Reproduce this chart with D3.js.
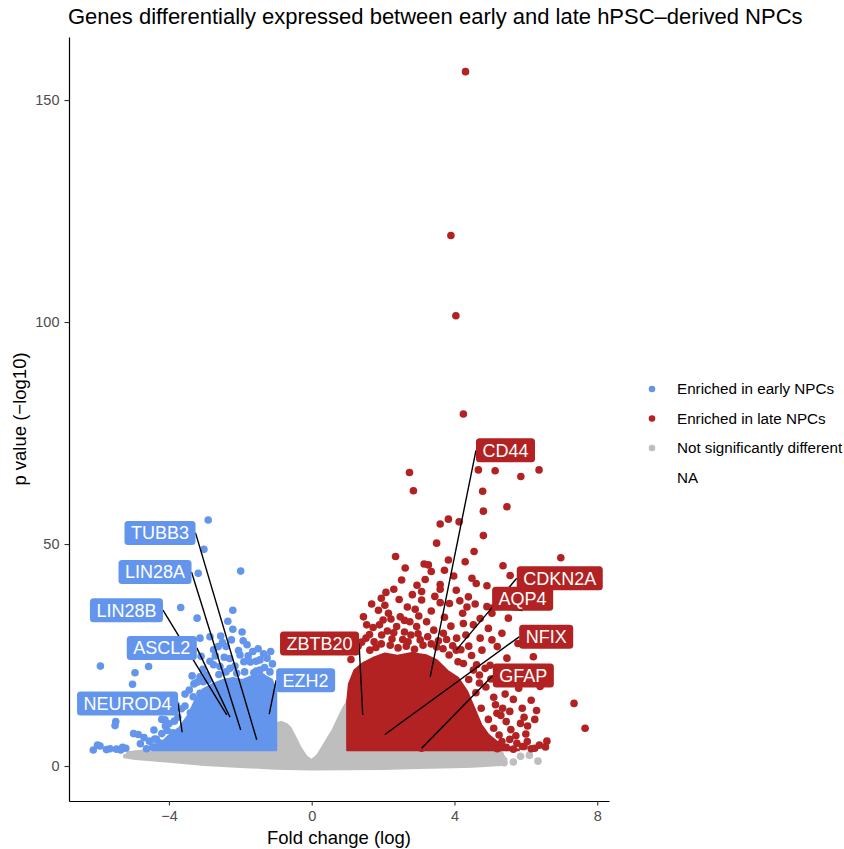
<!DOCTYPE html>
<html><head><meta charset="utf-8">
<script src="https://cdn.jsdelivr.net/npm/d3@7"></script>
<style>body{margin:0;background:#fff} text{font-family:"Liberation Sans",Arial,Helvetica,sans-serif}</style>
</head><body><svg id="chart" width="844" height="849"></svg>
<script>
// ---------- data ----------
const xTicks = [-4, 0, 4, 8];
const yTicks = [0, 50, 100, 150];
const legendLabels = ["Enriched in early NPCs", "Enriched in late NPCs", "Not significantly different", "NA"];
const groupColors = ["#6495ED", "#B22222", "#BEBEBE", null];

// dense clouds of points (outline of the overplotted mass: fold change, -log10 p)
const nsHullFC = [-5.25,-5.0,-4.5,-1.0,-0.99,-0.85,-0.7,-0.6,-0.45,-0.3,-0.15,0,0.15,0.3,0.45,0.6,0.75,0.9,1.0,1.0,5.0,5.3,5.45,5.3,4.5,4.0,3.0,2.0,1.0,0,-1.0,-2.0,-3.0,-4.0,-4.6,-5.0,-5.25];
const nsHullP  = [2.4,3.2,3.6,3.6,9.6,9.9,9.4,8.6,6.3,3.9,2.1,1.3,2.3,4.2,6.2,8.2,10.8,13.2,14.5,3.6,3.5,3.0,1.5,0.3,-0.1,-0.2,-0.4,-0.6,-0.7,-0.75,-0.55,-0.15,0.3,1.0,1.4,1.7,2.0];
const downHullFC = [-4.45,-4.45,-4.2,-3.95,-3.7,-3.45,-3.25,-3.05,-2.8,-2.5,-2.2,-1.95,-1.65,-1.35,-1.12,-1.0,-1.0];
const downHullP  = [3.6,4.6,5.3,7.2,8.6,11.5,15,17.2,18.3,19.3,19.8,19.3,20.3,20.4,19.4,17,3.6];
const upHullFC = [1.0,1.0,1.05,1.2,1.45,1.75,2.05,2.4,2.8,3.2,3.5,3.8,4.1,4.35,4.55,4.75,4.95,5.25,5.55,5.8];
const upHullP  = [3.6,14.5,18.5,21.5,23.2,24.4,25.3,24.8,25.4,24.9,23.8,21.4,19.8,16.8,13,9.2,7,5,4.2,3.6];

// individual (scattered) points
const nsFC = [4.67,5.39,5.65,6.34,5.00,5.28,-5.1,-4.85,-4.6,-4.3,6.1,5.85];
const nsP  = [0.75,0.75,0.9,1.1,2.6,2.6,2.6,2.3,2.2,1.9,2.4,2.2];

const downFC = [-2.90,-3.02,-3.18,-1.99,-3.67,-2.21,-3.21,-2.21,-3.13,-2.85,-2.55,-2.40,-1.92,-1.81,-2.01,-1.78,-1.56,-5.92,-4.57,-4.95,-5.02,-3.43,-3.32,-5.49,-5.51,-4.86,-4.42,-4.11,-4.35,-6.12,-5.93,-5.65,-5.47,-5.21,-4.63,-4.16,-3.88,-3.95,-3.64,-3.50,-3.06,-1.17,-1.40,-1.26,-2.10,-2.62,-3.13,-3.04,-3.13,-2.57,-2.29,-1.68,-1.45,-1.32,-1.62,-2.75,-2.95,-3.30,-3.55,-3.75,-4.05,-4.25,-4.80,-5.30,-6.00,-5.75,-5.35,-4.45,-3.80,-1.90,-2.45,-2.05,-1.65,-4.99,-4.20,-4.10,-3.90,-4.40,-3.40,-3.14,
  -1.10,-1.25,-1.45,-1.55,-1.72,-1.88,-2.15,-2.30,-2.40,-2.60,-2.70,-2.85,-2.90,-3.05,-3.20,-3.35,-3.10,-2.50,-2.25,-1.95,-2.75,-3.55,-3.65,-3.85,-3.80,-4.00,-4.20,-4.55,-4.70,-4.00,-2.35,-1.50,-1.35,-1.15];
const downP  = [55.4,48.8,43.4,43.9,35.7,35.1,33.3,30.8,28.8,29.1,29.3,26.9,28.2,27.3,25.0,24.8,23.6,22.5,22.4,21.0,18.4,17.1,15.6,10.0,9.1,7.1,8.1,10.4,6.0,3.6,4.5,3.9,3.8,4.0,3.9,4.3,6.6,5.1,5.9,8.9,14.1,21.2,20.1,19.0,20.9,26.9,20.1,19.0,16.4,22.4,22.0,19.4,21.6,22.2,21.0,22.8,20.5,18.5,13.5,11.0,8.0,5.2,5.0,4.2,4.7,3.7,3.6,4.3,4.8,23.5,24.5,26.0,25.8,7.3,10.5,9.0,7.5,6.1,12.0,11.3,
  23.0,24.3,23.9,21.4,23.4,21.2,22.5,24.2,21.2,20.6,24.8,23.6,19.3,21.8,18.9,20.3,24.7,27.8,28.4,30.2,26.2,16.2,12.9,10.1,13.8,9.5,7.3,5.6,6.4,12.5,32.6,26.4,25.3,25.8];

const upFC = [4.31,3.90,4.04,4.25,2.74,2.85,4.67,5.14,5.86,6.37,4.79,4.81,5.47,3.60,3.83,4.13,4.81,6.98,3.83,3.15,3.27,2.52,3.18,3.60,3.60,4.49,4.61,4.91,5.56,2.08,3.08,4.05,4.39,3.08,3.60,1.87,2.15,2.90,4.23,4.91,5.05,5.51,2.48,2.60,2.75,1.54,1.90,2.38,2.94,3.22,3.69,4.25,4.53,5.33,1.52,1.96,4.06,4.72,5.05,1.63,3.04,4.25,4.77,5.47,6.21,4.53,4.86,5.00,6.40,7.35,7.66,5.42,5.65,5.19,5.45,6.05,6.59,6.38,6.04,5.75,5.33,4.86,4.53,1.1,1.3,1.75,2.2,2.55,2.65,3.35,3.5,3.85,4.1,4.4,4.6,4.75,4.95,5.1,5.25,5.55,5.9,6.15,5.65,5.2,4.95,2.3,2.0,2.78,3.9,4.4,5.25,5.9,6.25,4.7,5.1,5.35,
  1.25,1.40,1.62,1.80,1.95,2.12,2.25,2.42,2.60,2.70,2.88,2.98,3.12,3.25,3.42,3.55,3.68,3.78,3.95,4.18,4.32,4.48,4.62,4.70,4.88,5.02,5.15,5.30,5.58,5.72,6.00,5.85,1.45,1.72,2.05,2.22,2.45,2.68,2.82,3.00,3.35,3.45,3.72,3.86,3.98,4.15,4.35,4.58,4.72,4.95,5.20,5.38,5.62,5.78,6.00,6.15,3.35,2.62,2.95,3.72,4.30,1.95,2.30,1.68,5.18,5.36,4.55,3.50,2.35,
  4.70,5.00,5.45,5.95,6.25,6.55,5.55,5.95,6.30,5.80,6.10];
const upP  = [156.4,119.5,101.4,79.3,66.1,62.0,66.7,66.5,65.2,66.7,61.9,57.4,58.4,54.5,55.6,55.0,51.9,46.9,46.4,45.5,45.3,41.9,42.0,40.9,39.8,42.3,41.1,40.6,42.9,39.1,39.3,39.6,38.1,37.4,36.8,35.1,34.4,35.3,34.4,35.9,34.4,33.3,33.6,32.8,32.5,31.8,31.8,31.4,31.4,32.5,29.9,32.1,31.8,29.9,28.8,29.5,28.8,28.8,28.4,26.1,28.4,23.1,26.1,24.3,24.6,21.6,22.0,22.7,17.9,14.1,8.5,16.2,15.0,11.9,10.0,9.0,5.6,4.7,5.5,5.1,5.5,6.6,8.1,24,27.0,28.0,27.2,28.5,27.0,27.5,26.8,25.0,23.5,19.5,16.5,13.0,10.5,8.5,7.0,6.0,4.4,3.9,3.8,3.9,4.2,30.0,32.9,29.5,31.5,27.0,21.5,13.0,10.5,18.7,15.5,13.0,
  25.8,27.9,29.6,26.7,27.5,30.4,28.6,26.6,30.2,28.0,26.3,29.8,27.2,29.1,30.6,28.2,26.4,28.5,27.1,26.2,29.5,24.9,22.8,20.5,17.8,19.6,13.8,11.4,8.2,6.8,7.2,9.6,33.6,31.2,36.2,33.1,37.5,35.8,38.6,33.8,34.9,38.2,33.5,36.6,42.8,37.2,35.8,36.5,33.2,31.0,26.9,19.2,20.8,27.6,19.5,14.8,43.8,44.6,40.7,44.1,46.0,37.8,39.8,36.5,38.7,45.1,48.3,50.2,47.2,
  4.8,4.5,4.2,4.4,4.0,4.3,12.3,11.0,12.5,17.5,20.8];

// labelled genes
const geneNames = ["TUBB3","LIN28A","LIN28B","ASCL2","NEUROD4","EZH2","ZBTB20","CD44","NFIX","GFAP","CDKN2A","AQP4"];
const geneGroup = [0,0,0,0,0,0,1,1,1,1,1,1];
const geneFC = [-1.54,-1.99,-2.38,-2.29,-3.63,-1.19,1.43,3.32,2.05,3.08,4.05,5.06];
const geneP  = [5.9,8.1,11.5,11.0,7.6,11.7,11.5,20.1,7.1,4.0,26.1,35.6];
const labelFC = [-4.25,-4.39,-5.19,-4.20,-5.16,-0.17,0.22,5.43,6.57,5.93,6.95,5.91];
const labelP  = [52.5,43.7,35.1,26.6,14.1,19.3,27.6,71.1,29.1,20.4,42.3,37.7];
const labelOrder = [0,1,2,3,4,5,6,7,8,9,11,10];

// ---------- layout ----------
const L = 69, R = 609, T = 37, B = 801;
const FONT = '"Liberation Sans",Arial,Helvetica,sans-serif';
const svg = d3.select("#chart");
const x = d3.scaleLinear().domain([-6.80, 8.33]).range([L, R]);
const y = d3.scaleLinear().domain([-7.88, 164.2]).range([B, T]);
const rPt = 3.8;

const plot = svg.append("g");
const hull = (fc, p) => d3.line().x(i => x(fc[i])).y(i => y(p[i]))(d3.range(fc.length)) + "Z";
const drawHull = (fc, p, col) => plot.append("path").attr("d", hull(fc, p)).attr("fill", col)
  .attr("stroke", col).attr("stroke-width", 2.5).attr("stroke-linejoin", "round");

drawHull(nsHullFC, nsHullP, groupColors[2]);
plot.selectAll("circle.ns").data(d3.range(nsFC.length)).join("circle").attr("class","ns")
  .attr("cx", i => x(nsFC[i])).attr("cy", i => y(nsP[i])).attr("r", rPt).attr("fill", groupColors[2]);

drawHull(downHullFC, downHullP, groupColors[0]);
drawHull(upHullFC, upHullP, groupColors[1]);

plot.selectAll("circle.down").data(d3.range(downFC.length)).join("circle").attr("class","down")
  .attr("cx", i => x(downFC[i])).attr("cy", i => y(downP[i])).attr("r", rPt).attr("fill", groupColors[0]);
plot.selectAll("circle.up").data(d3.range(upFC.length)).join("circle").attr("class","up")
  .attr("cx", i => x(upFC[i])).attr("cy", i => y(upP[i])).attr("r", rPt).attr("fill", groupColors[1]);
plot.selectAll("circle.gene").data(d3.range(geneNames.length)).join("circle").attr("class","gene")
  .attr("cx", i => x(geneFC[i])).attr("cy", i => y(geneP[i])).attr("r", rPt).attr("fill", i => groupColors[geneGroup[i]]);

// ---------- labels ----------
const segG = svg.append("g");
const labG = svg.append("g");
const boxH = 24, padX = 6.5, fs = 18;
labelOrder.forEach(i => {
  const g = labG.append("g");
  const cx = x(labelFC[i]), cy = y(labelP[i]);
  const rect = g.append("rect");
  const t = g.append("text").text(geneNames[i]).attr("x", cx).attr("y", cy + fs * 0.36)
    .attr("text-anchor", "middle").attr("font-size", fs).attr("fill", "#fff");
  const w = t.node().getComputedTextLength() + 2 * padX;
  rect.attr("x", cx - w / 2).attr("y", cy - boxH / 2).attr("width", w).attr("height", boxH)
    .attr("rx", 3.5).attr("fill", groupColors[geneGroup[i]]);
  const px = x(geneFC[i]), py = y(geneP[i]);
  let sx, sy;
  if (px < cx - w / 2) { sx = cx - w / 2; sy = cy; }
  else if (px > cx + w / 2) { sx = cx + w / 2; sy = cy; }
  else if (py > cy) { sx = cx; sy = cy + boxH / 2; }
  else { sx = cx; sy = cy - boxH / 2; }
  if (Math.hypot(px - sx, py - sy) > 10) {
    segG.append("line").attr("x1", sx).attr("y1", sy).attr("x2", px).attr("y2", py)
      .attr("stroke", "#000").attr("stroke-width", 1.4);
  }
});

// ---------- axes ----------
const xa = svg.append("g").attr("transform", `translate(0,${B})`)
  .call(d3.axisBottom(x).tickValues(xTicks).tickSize(4.5).tickSizeOuter(0).tickPadding(5.5).tickFormat(d3.format("d")));
const ya = svg.append("g").attr("transform", `translate(${L},0)`)
  .call(d3.axisLeft(y).tickValues(yTicks).tickSize(4.5).tickSizeOuter(0).tickPadding(5).tickFormat(d3.format("d")));
[xa, ya].forEach(a => {
  a.select(".domain").attr("stroke", "#000").attr("stroke-width", 1.2);
  a.selectAll(".tick line").attr("stroke", "#333").attr("stroke-width", 1.1);
  a.selectAll(".tick text").attr("fill", "#4D4D4D").attr("font-size", 14.5).attr("font-family", FONT);
});

svg.append("text").attr("x", (L + R) / 2).attr("y", 843.5).attr("text-anchor", "middle")
  .attr("font-size", 18.5).text("Fold change (log)");
svg.append("text").attr("transform", `translate(26,${(T + B) / 2}) rotate(-90)`).attr("text-anchor", "middle")
  .attr("font-size", 18.5).text("p value (\u2212log10)");
svg.append("text").attr("x", 68).attr("y", 24).attr("font-size", 22)
  .text("Genes differentially expressed between early and late hPSC\u2013derived NPCs");

// ---------- legend ----------
const leg = svg.append("g");
legendLabels.forEach((lab, i) => {
  const ly = 389 + i * 29.5;
  if (groupColors[i]) leg.append("circle").attr("cx", 652).attr("cy", ly).attr("r", 3.3).attr("fill", groupColors[i]);
  leg.append("text").attr("x", 677).attr("y", ly + 5.3).attr("font-size", 15.2).attr("fill", "#000").text(lab);
});
</script></body></html>
